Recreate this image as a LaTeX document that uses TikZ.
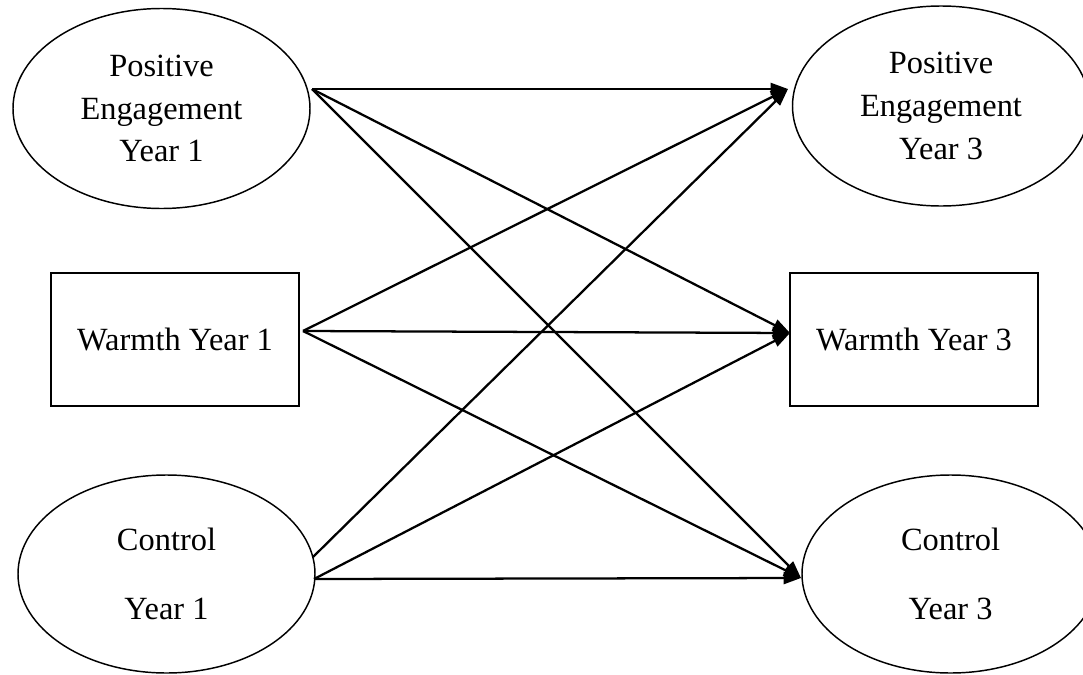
\documentclass[tikz,border=0pt]{standalone}
\usepackage{fontspec}
\setmainfont{Liberation Serif}
\usetikzlibrary{arrows.meta,shapes.geometric}
\tikzset{
  lbl/.style={font=\fontsize{24.3}{32}\selectfont, align=center, inner sep=0pt},
  oval/.style={lbl, ellipse, draw, line width=1.1pt, minimum width=222.75pt, minimum height=150pt},
  boxn/.style={lbl, rectangle, draw, line width=1.1pt, minimum width=186pt, minimum height=99.75pt},
  link/.style={line width=1.7pt, -{Triangle[length=13pt,width=9pt]}}
}
\begin{document}
\begin{tikzpicture}[x=0.75pt,y=-0.75pt]
\useasboundingbox (0,0) rectangle (1083,675);
\begin{scope}
\clip (0,0) rectangle (1083,675);
\node[oval] (pe1) at (161.5,108.5) {Positive\\Engagement\\Year 1};
\node[oval] (pe3) at (941,106) {Positive\\Engagement\\Year 3};
\node[boxn] (w1) at (175,339.5) {Warmth Year 1};
\node[boxn] (w3) at (914,339.5) {Warmth Year 3};
\node[oval, minimum height=148.5pt] (c1) at (166.5,574) {Control\\[19.5pt]Year 1};
\node[oval, minimum height=148.5pt] (c3) at (950.5,574) {Control\\[19.5pt]Year 3};
\end{scope}
\coordinate (pe1o) at (312,89);
\coordinate (w1o) at (303,331);
\coordinate (c1oa) at (313,557);
\coordinate (c1ob) at (314,579);
\coordinate (pe3i) at (788,89);
\coordinate (w3i) at (790,333);
\coordinate (c3i) at (801,578);
\draw[link] (pe1o) -- (pe3i);
\draw[link] (pe1o) -- (w3i);
\draw[link] (pe1o) -- (c3i);
\draw[link] (w1o) -- (pe3i);
\draw[link] (w1o) -- (w3i);
\draw[link] (w1o) -- (c3i);
\draw[link] (c1oa) -- (pe3i);
\draw[link] (c1ob) -- (w3i);
\draw[link] (c1ob) -- (c3i);
\end{tikzpicture}
\end{document}
